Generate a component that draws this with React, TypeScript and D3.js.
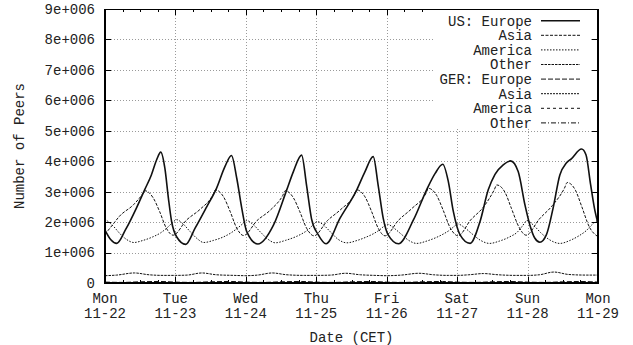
import React from "react";
import * as d3 from "d3";

// ---- data (hours since Mon 11-22 00:00 CET, values in millions of peers) ----
const dayNames = ["Mon", "Tue", "Wed", "Thu", "Fri", "Sat", "Sun", "Mon"];
const dayDates = ["11-22", "11-23", "11-24", "11-25", "11-26", "11-27", "11-28", "11-29"];
const yTickValues = [0, 1e6, 2e6, 3e6, 4e6, 5e6, 6e6, 7e6, 8e6, 9e6];
const yTickLabels = ["0", "1e+006", "2e+006", "3e+006", "4e+006", "5e+006", "6e+006", "7e+006", "8e+006", "9e+006"];
const legendLabels = ["US: Europe", "Asia", "America", "Other", "GER: Europe", "Asia", "America", "Other"];

const usEurope: [number, number][] = [
  [0, 1.74], [2, 1.42], [4, 1.3], [7, 1.75], [10.7, 2.46], [13.5, 3.06], [15.8, 3.55], [17.6, 4.05], [19, 4.3],
  [20.4, 3.77], [21.6, 2.79], [22.7, 2.02], [24.4, 1.52], [27.5, 1.27],
  [30.7, 1.8], [34.7, 2.51], [38, 3.11], [40.9, 3.83], [43.1, 4.19], [44.9, 3.44], [46.6, 2.46], [48.3, 1.69], [52.1, 1.28],
  [57.4, 1.9], [61.9, 3.05], [64.2, 3.66], [67, 4.2], [68.7, 3.2], [70.4, 2.1], [72.7, 1.58], [75.3, 1.29],
  [80.1, 2.13], [85.8, 3.06], [88.6, 3.66], [91.4, 4.15], [93.1, 3.2], [94.8, 2.13], [96.5, 1.58], [100, 1.29],
  [105.1, 2.07], [109.6, 3.06], [112.5, 3.6], [115.1, 3.9], [117, 3.33], [118.7, 2.35], [121, 1.58], [124.4, 1.3],
  [127.8, 2.02], [130.6, 3.06], [132.9, 3.57], [135.7, 3.88], [138.2, 4.01], [140.8, 3.66], [143.1, 2.57], [144.8, 1.9],
  [146.5, 1.47], [148.2, 1.34],
  [150.4, 1.58], [152.7, 2.46], [155, 3.55], [157.2, 3.94], [158.9, 4.08], [162.4, 4.4], [163.9, 4.21], [165.5, 3.22],
  [167, 2.35], [168, 1.95],
];

const usAsia: [number, number][] = [
  [0, 1.6], [2.5, 1.9], [5, 2.2], [9.7, 2.57], [12.8, 2.92], [13.6, 3.03], [16.4, 2.8], [18.6, 2.35], [20.9, 1.8], [23.2, 1.57],
  [27.8, 2.07], [32.4, 2.42], [36.8, 2.9], [37.6, 3.06], [40.4, 2.83], [42.6, 2.36], [44.9, 1.8], [47.2, 1.56],
  [51.8, 2.05], [56.4, 2.4], [60.6, 2.88], [61.4, 3.03], [64.2, 2.8], [66.4, 2.34], [68.7, 1.8], [71.2, 1.55],
  [75.8, 2.05], [80.4, 2.42], [85, 2.9], [85.8, 3.06], [88.6, 2.83], [90.8, 2.36], [93.1, 1.8], [95.4, 1.55],
  [100, 2.06], [104.6, 2.45], [109.4, 2.95], [110.2, 3.11], [113, 2.88], [115.2, 2.4], [117.6, 1.82], [120.3, 1.55],
  [124.6, 2.07], [129, 2.5], [132.6, 3.05], [133.5, 3.22], [136.3, 2.98], [138.5, 2.45], [141, 1.85], [143.5, 1.57],
  [148, 2.1], [152.5, 2.55], [156.6, 3.12], [157.5, 3.3], [160.3, 3.05], [162.5, 2.5], [165, 1.85], [168, 1.52],
];

const usAmerica: [number, number][] = [
  [0, 2.1], [3, 1.85], [5, 1.63], [7.5, 1.42], [9.8, 1.33], [13, 1.4], [16.4, 1.52], [19, 1.65], [21, 1.8], [23, 1.98], [24.4, 2.08],
  [26.5, 1.95], [29, 1.69], [31.5, 1.45], [33.6, 1.33], [37, 1.4], [40.5, 1.52], [43, 1.65], [45, 1.79], [47, 1.95], [48.3, 2.05],
  [50.5, 1.92], [53, 1.67], [55.5, 1.44], [58, 1.32], [61.5, 1.4], [65, 1.52], [67.5, 1.64], [69.5, 1.77], [71, 1.92], [72.3, 2.02],
  [74.5, 1.9], [77, 1.66], [79.5, 1.43], [82.4, 1.32], [86, 1.4], [89.3, 1.52], [91.5, 1.62], [93.5, 1.74], [95, 1.86], [96.2, 1.93],
  [98.5, 1.8], [101, 1.6], [103.5, 1.4], [106.2, 1.3], [109.7, 1.38], [113, 1.5], [115.5, 1.62], [117.5, 1.74], [119, 1.86], [120.2, 1.94],
  [122.5, 1.82], [125, 1.62], [128, 1.4], [131, 1.3], [134.5, 1.38], [138, 1.52], [140.5, 1.67], [142.3, 1.88], [143.8, 2.05],
  [146, 1.9], [148.5, 1.65], [151.5, 1.42], [155, 1.3], [158.5, 1.4], [161.5, 1.55], [164, 1.72], [166, 1.92], [168, 2.07],
];

const usOther: [number, number][] = [
  [0, 0.24], [4, 0.26], [10, 0.33], [15, 0.27], [20, 0.25], [24, 0.25], [28, 0.26], [33, 0.33], [38, 0.27], [44, 0.25],
  [48, 0.24], [52, 0.26], [57, 0.33], [62, 0.27], [68, 0.25], [72, 0.25], [77, 0.26], [82, 0.32], [87, 0.27], [92, 0.25],
  [96, 0.24], [101, 0.26], [107, 0.32], [112, 0.27], [117, 0.25], [120, 0.25], [124, 0.27], [129, 0.31], [134, 0.27],
  [140, 0.25], [144, 0.25], [148, 0.27], [153, 0.36], [158, 0.28], [164, 0.26], [168, 0.26],
];

const gerEurope: [number, number][] = [
  [0, 0.03], [6, 0.02], [12, 0.04], [19, 0.05], [24, 0.03], [30, 0.02], [36, 0.04], [43, 0.05], [48, 0.03], [54, 0.02],
  [60, 0.04], [67, 0.05], [72, 0.03], [78, 0.02], [84, 0.04], [91, 0.05], [96, 0.03], [102, 0.02], [108, 0.04], [115, 0.05],
  [120, 0.03], [126, 0.02], [132, 0.04], [138, 0.05], [144, 0.03], [150, 0.02], [156, 0.04], [162, 0.05], [168, 0.03],
];
const gerAsia: [number, number][] = [[0, 0.006], [24, 0.008], [48, 0.006], [72, 0.008], [96, 0.006], [120, 0.008], [144, 0.006], [168, 0.008]];
const gerAmerica: [number, number][] = [[0, 0.01], [24, 0.012], [48, 0.01], [72, 0.012], [96, 0.01], [120, 0.012], [144, 0.01], [168, 0.012]];
const gerOther: [number, number][] = [[0, 0.004], [24, 0.005], [48, 0.004], [72, 0.005], [96, 0.004], [120, 0.005], [144, 0.004], [168, 0.005]];

const seriesData = [usEurope, usAsia, usAmerica, usOther, gerEurope, gerAsia, gerAmerica, gerOther];

// ---- styles ----
const dashes = ["", "3,1.5", "1.5,1.5", "2.5,1", "5,2", "2,1", "3,3", "5,2,1,2"];
const widths = [1.6, 1, 1, 1, 1, 1, 1, 1];

const W = 633, H = 345;
const L = 105, R = 598, T = 9, B = 283;
const FONT = "'Courier New', Courier, 'Nimbus Mono PS', FreeMono, 'Liberation Mono', monospace";

export default function App() {
  const x = d3.scaleLinear().domain([0, 168]).range([L, R]);
  const y = d3.scaleLinear().domain([0, 9e6]).range([B, T]);
  const line = d3
    .line<[number, number]>()
    .x((d) => x(d[0]))
    .y((d) => y(d[1] * 1e6))
    .curve(d3.curveMonotoneX);

  const majorX = d3.range(0, 169, 24);
  const minorX = d3.range(0, 169, 6).filter((h) => h % 24 !== 0);
  const gridColor = "#9a9a9a";

  const legX0 = 433, legX1 = 590, legY0 = 10, legY1 = 128;
  const legRow = (i: number) => 20.7 + i * 14.6;
  const textFill = "#222";

  return (
    <svg width={W} height={H} style={{ position: "absolute", left: 0, top: 0, background: "#fff" }}>
      <rect x={0} y={0} width={W} height={H} fill="#fff" />
      {/* grid */}
      <g stroke={gridColor} strokeWidth={1} strokeDasharray="1,2">
        {yTickValues.slice(1, -1).map((v) => (
          <line key={"gy" + v} x1={L} x2={R} y1={Math.round(y(v)) + 0.5} y2={Math.round(y(v)) + 0.5} />
        ))}
        {majorX.slice(1, -1).map((h) => (
          <line key={"gx" + h} x1={Math.round(x(h)) + 0.5} x2={Math.round(x(h)) + 0.5} y1={T} y2={B} />
        ))}
      </g>
      {/* ticks */}
      <g stroke="#000" strokeWidth={1}>
        {yTickValues.map((v) => (
          <g key={"ty" + v}>
            <line x1={L} x2={L + 6} y1={Math.round(y(v)) + 0.5} y2={Math.round(y(v)) + 0.5} />
            <line x1={R - 6} x2={R} y1={Math.round(y(v)) + 0.5} y2={Math.round(y(v)) + 0.5} />
          </g>
        ))}
        {majorX.map((h) => (
          <g key={"tx" + h}>
            <line x1={Math.round(x(h)) + 0.5} x2={Math.round(x(h)) + 0.5} y1={B} y2={B - 6} />
            <line x1={Math.round(x(h)) + 0.5} x2={Math.round(x(h)) + 0.5} y1={T} y2={T + 6} />
          </g>
        ))}
        {minorX.map((h) => (
          <g key={"mx" + h}>
            <line x1={Math.round(x(h)) + 0.5} x2={Math.round(x(h)) + 0.5} y1={B} y2={B - 3} />
            <line x1={Math.round(x(h)) + 0.5} x2={Math.round(x(h)) + 0.5} y1={T} y2={T + 3} />
          </g>
        ))}
      </g>
      {/* series */}
      <g fill="none" stroke="#111">
        {seriesData.map((s, i) => (
          <path key={"s" + i} d={line(s) || ""} strokeWidth={widths[i]} strokeDasharray={dashes[i] || undefined} />
        ))}
      </g>
      {/* legend */}
      <rect x={legX0} y={legY0} width={legX1 - legX0} height={legY1 - legY0} fill="#fff" />
      <g fontFamily={FONT} fontSize={14} fill={textFill}>
        {legendLabels.map((lab, i) => (
          <g key={"lg" + i}>
            <text x={532} y={legRow(i)} dy="0.35em" textAnchor="end" style={{ whiteSpace: "pre" }}>
              {lab}
            </text>
            <line
              x1={541}
              x2={580}
              y1={legRow(i)}
              y2={legRow(i)}
              stroke="#111"
              strokeWidth={widths[i]}
              strokeDasharray={dashes[i] || undefined}
            />
          </g>
        ))}
      </g>
      {/* border */}
      <line x1={L} x2={R} y1={T + 0.5} y2={T + 0.5} stroke="#000" strokeWidth={1} />
      <line x1={L} x2={L} y1={T} y2={B + 1} stroke="#000" strokeWidth={2} />
      <line x1={R} x2={R} y1={T} y2={B + 1} stroke="#000" strokeWidth={2} />
      <line x1={L - 1} x2={R + 1} y1={B} y2={B} stroke="#000" strokeWidth={2} />
      {/* axis labels */}
      <g fontFamily={FONT} fontSize={14} fill={textFill}>
        {yTickValues.map((v, i) => (
          <text key={"yl" + v} x={95} y={y(v)} dy="0.35em" textAnchor="end">
            {yTickLabels[i]}
          </text>
        ))}
        {majorX.map((h, i) => (
          <g key={"xl" + h}>
            <text x={x(h)} y={298} dy="0.35em" textAnchor="middle">
              {dayNames[i]}
            </text>
            <text x={x(h)} y={313.5} dy="0.35em" textAnchor="middle">
              {dayDates[i]}
            </text>
          </g>
        ))}
        <text x={(L + R) / 2} y={337} dy="0.35em" textAnchor="middle">
          Date (CET)
        </text>
        <text transform={`translate(19,${(T + B) / 2}) rotate(-90)`} dy="0.35em" textAnchor="middle">
          Number of Peers
        </text>
      </g>
    </svg>
  );
}
